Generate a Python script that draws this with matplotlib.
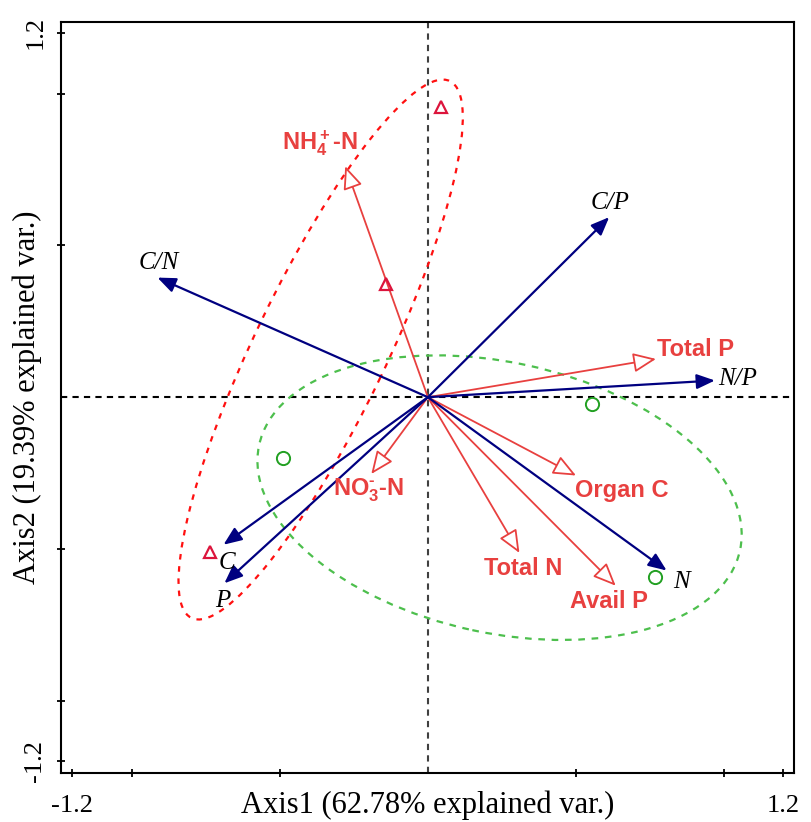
import matplotlib
matplotlib.use("Agg")
import matplotlib.pyplot as plt
from matplotlib.patches import Ellipse, FancyArrowPatch

NAVY, RED, CRIMSON, GREEN, LGREEN = "#000080", "#E8403F", "#DC143C", "#22A022", "#4DBF4D"
plt.rcParams.update({
    "font.family": "Liberation Serif",
    "axes.unicode_minus": False,
    "mathtext.fontset": "custom",
    "mathtext.rm": "Liberation Sans:bold",
    "mathtext.it": "Liberation Sans:bold",
    "mathtext.bf": "Liberation Sans:bold",
    "mathtext.default": "rm",
})

# soil property vectors (blue, filled heads)
blue_names = ["C/N", "C/P", "N/P", "N", "C", "P"]
blue_x = [-0.913, 0.612, 0.969, 0.806, -0.690, -0.687]
blue_y = [0.394, 0.593, 0.055, -0.571, -0.486, -0.613]
blue_lx = [-0.910, 0.615, 1.044, 0.855, -0.680, -0.693]
blue_ly = [0.443, 0.641, 0.061, -0.608, -0.545, -0.673]

# nutrient vectors (red, open heads)
red_names = [r"NH$_4^+$-N", "Total P", "Organ C", "Total N", "Avail P", r"NO$_3^{\text{-}}$-N"]
red_x = [-0.279, 0.770, 0.500, 0.309, 0.634, -0.191]
red_y = [0.761, 0.126, -0.258, -0.513, -0.621, -0.253]
red_lx = [-0.363, 0.902, 0.656, 0.322, 0.612, -0.202]
red_ly = [0.838, 0.157, -0.308, -0.565, -0.673, -0.308]

# samples
tri_x = [0.045, -0.141, -0.734]
tri_y = [0.957, 0.374, -0.509]
circ_x = [-0.489, 0.553, 0.767]
circ_y = [-0.201, -0.022, -0.591]

# group ellipses: centre x, centre y, width, height, angle
red_ell = (-0.362, 0.157, 1.972, 0.443, 63.7)
green_ell = (0.242, -0.331, 1.660, 0.892, -11.9)

fig = plt.figure(figsize=(8.12, 8.22), dpi=100)
ax = fig.add_axes([0.0757, 0.060, 0.9025, 0.9136])
lim = 1.237
ax.set_xlim(-lim, lim)
ax.set_ylim(-lim, lim)

ax.axvline(0, color="#404040", ls=(0, (3, 2.5)), lw=1.5, zorder=1)
ax.axhline(0, color="black", ls=(0, (3, 2.5)), lw=1.5, zorder=1)

cx, cy, w, h, a = red_ell
ax.add_patch(Ellipse((cx, cy), w, h, angle=a, fill=False, ec="#FF1010",
                     ls=(0, (2.5, 3)), lw=1.6, zorder=2))
cx, cy, w, h, a = green_ell
ax.add_patch(Ellipse((cx, cy), w, h, angle=a, fill=False, ec=LGREEN,
                     ls=(0, (3, 3)), lw=1.6, zorder=2))

for x, y in zip(red_x, red_y):
    ax.add_patch(FancyArrowPatch((0, 0), (x, y), arrowstyle="-|>,head_length=14,head_width=6",
                                 mutation_scale=1, shrinkA=0, shrinkB=0, lw=1.3,
                                 ec=RED, fc="white", zorder=3))
for x, y in zip(blue_x, blue_y):
    ax.add_patch(FancyArrowPatch((0, 0), (x, y), arrowstyle="-|>,head_length=11,head_width=4.5",
                                 mutation_scale=1, shrinkA=0, shrinkB=0, lw=1.6,
                                 ec=NAVY, fc=NAVY, zorder=4))

for name, x, y in zip(red_names, red_lx, red_ly):
    ax.text(x, y, name, color=RED, fontsize=17, fontweight="bold",
            family="Liberation Sans", ha="center", va="center", zorder=5)
for name, x, y in zip(blue_names, blue_lx, blue_ly):
    ax.text(x, y, name, color="black", fontsize=18, style="italic",
            ha="center", va="center", zorder=5)

ax.plot(tri_x, tri_y, ls="none", marker="^", ms=8.5, mfc="none", mec=CRIMSON, mew=1.6, zorder=6)
ax.plot(circ_x, circ_y, ls="none", marker="o", ms=9.5, mfc="none", mec=GREEN, mew=1.4, zorder=6)

for s in ax.spines.values():
    s.set_linewidth(1.5)
ticks = [-1.2, -1.0, -0.5, 0.5, 1.0, 1.2]
labels = ["-1.2", "", "", "", "", "1.2"]
ax.set_xticks(ticks, labels)
ax.set_yticks(ticks, labels)
ax.tick_params(direction="inout", length=6, width=1.3, labelsize=19, pad=8)
ax.tick_params(axis="x", pad=13)
for t in ax.get_yticklabels():
    t.set_rotation(90)
    t.set_va("center")

ax.set_xlabel("Axis1 (62.78% explained var.)", fontsize=22)
ax.set_ylabel("Axis2 (19.39% explained var.)", fontsize=22)
ax.xaxis.set_label_coords(0.5, -0.043)
ax.xaxis.label.set_va("center")
ax.yaxis.set_label_coords(-0.047, 0.5)
ax.yaxis.label.set_va("center")

fig.savefig("out.png", dpi=100)
